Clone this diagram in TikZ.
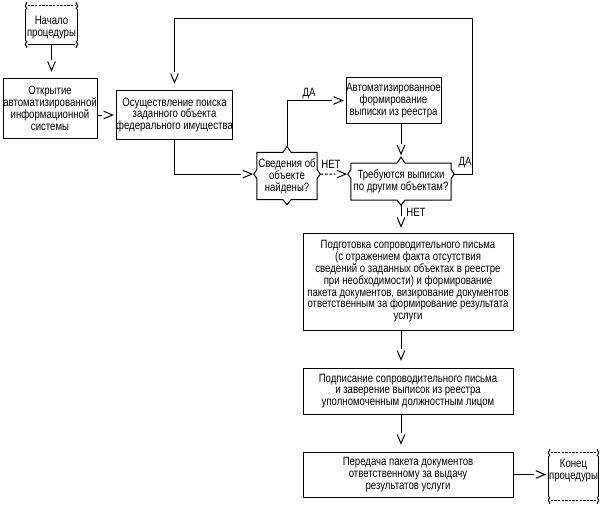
\documentclass[tikz,border=0pt]{standalone}
\usepackage{fontspec}
\setmainfont{Liberation Sans}[FakeStretch=0.8]
\usetikzlibrary{calc}

\pgfdeclarearrow{
  name = Vtip,
  setup code = {
    \pgfarrowssettipend{0pt}
    \pgfarrowssetlineend{-10.5pt}
    \pgfarrowssetbackend{-10.5pt}
    \pgfarrowshullpoint{0pt}{0pt}
    \pgfarrowshullpoint{-9pt}{4pt}
    \pgfarrowshullpoint{-9pt}{-4pt}
  },
  drawing code = {
    \pgfsetdash{}{0pt}
    \pgfsetmiterjoin
    \pgfpathmoveto{\pgfqpoint{-9pt}{3.8pt}}
    \pgfpathlineto{\pgfqpoint{0pt}{0pt}}
    \pgfpathlineto{\pgfqpoint{-9pt}{-3.8pt}}
    \pgfusepathqstroke
  }
}

\newcommand\diagtxt{\fontsize{12}{11.8}\selectfont}

\tikzset{
  frame/.style={line width=1pt, line cap=butt, line join=miter},
  arr/.style={frame, arrows={-Vtip}},
  box/.style={draw, frame, rectangle, align=center, inner xsep=0pt, inner ysep=1pt, font=\diagtxt},
  dec/.style={rectangle, align=center, inner sep=0pt, font=\diagtxt},
  term/.style={rectangle, inner sep=0pt},
  lbl/.style={inner sep=0pt, font=\diagtxt},
  tdash/.style={dash pattern=on 2.4pt off 1.2pt},
  ldash/.style={dash pattern=on 3pt off 1.6pt},
}

\newcommand\decframe[2]{%
  \coordinate (#1-n) at ($(#1.north)+(0,-6)$);
  \coordinate (#1-s) at ($(#1.south)+(0,5)$);
  \coordinate (#1-w) at ($(#1.north west)+(-3,#2)$);
  \coordinate (#1-e) at ($(#1.north east)+(3,#2)$);
  \draw[frame] (#1.north west) -- ($(#1.north)+(-4,0)$) -- (#1-n) -- ($(#1.north)+(4,0)$) -- (#1.north east)
    -- ($(#1.north east)+(0,#2-4.5)$) -- (#1-e) -- ($(#1.north east)+(0,#2+4.5)$) -- (#1.south east)
    -- ($(#1.south)+(4,0)$) -- (#1-s) -- ($(#1.south)+(-4,0)$) -- (#1.south west)
    -- ($(#1.north west)+(0,#2+4.5)$) -- (#1-w) -- ($(#1.north west)+(0,#2-4.5)$) -- cycle;
}

\newcommand\termframe[3]{%
  \draw[frame] ($(#1.north west)+(0,3.5)$) -- ($(#1.south west)+(0,-3.5)$);
  \draw[frame] ($(#1.north east)+(0,3.5)$) -- ($(#1.south east)+(0,-3.5)$);
  \draw[frame,#2] ($(#1.north west)+(2,0)$) -- ($(#1.north east)+(-2,0)$);
  \draw[frame,#3] ($(#1.south west)+(2,0)$) -- ($(#1.south east)+(-2,0)$);
  \draw[frame] ($(#1.north west)+(1.2,-3.5)$) .. controls +(-2.2,2.2) and +(-2.2,-2.2) .. ($(#1.north west)+(1.2,3.5)$);
  \draw[frame] ($(#1.south west)+(1.2,-3.5)$) .. controls +(-2.2,2.2) and +(-2.2,-2.2) .. ($(#1.south west)+(1.2,3.5)$);
  \draw[frame] ($(#1.north east)+(-1.2,-3.5)$) .. controls +(2.2,2.2) and +(2.2,-2.2) .. ($(#1.north east)+(-1.2,3.5)$);
  \draw[frame] ($(#1.south east)+(-1.2,-3.5)$) .. controls +(2.2,2.2) and +(2.2,-2.2) .. ($(#1.south east)+(-1.2,3.5)$);
}

\begin{document}
\begin{tikzpicture}[x=1pt,y=-1pt]
\path[fill=white] (0,0) rectangle (601,508);
\useasboundingbox (0,0) rectangle (601,508);

\node[term, minimum width=51pt, minimum height=38pt,
      label={[lbl,align=center,yshift=-2.5pt]center:{Начало\\процедуры}}] (start) at (51.5,25) {};
\termframe{start}{tdash}{}

\node[box, minimum width=94pt, minimum height=59pt] (open) at (50,108.5)
  {Открытие\\автоматизированной\\информационной\\системы};
\node[box, minimum width=115pt, minimum height=48pt] (search) at (174.5,115)
  {Осуществление поиска\\заданного объекта\\федерального имущества};
\node[box, minimum width=95pt, minimum height=45pt] (auto) at (393.5,100.5)
  {Автоматизированное\\формирование\\выписки из реестра};
\node[dec, minimum width=60pt, minimum height=47pt] (found) at (287,176)
  {Сведения об\\объекте\\найдены?};
\decframe{found}{21.8}
\node[dec, minimum width=100pt, minimum height=36.7pt] (more) at (401,181.6)
  {Требуются выписки\\по другим объектам?};
\decframe{more}{11}
\node[box, minimum width=210pt, minimum height=97pt] (prep) at (408,281.5)
  {Подготовка сопроводительного письма\\(с отражением факта отсутствия\\сведений о заданных объектах в реестре\\при необходимости) и формирование\\пакета документов, визирование документов\\ответственным за формирование результата\\услуги};
\node[box, minimum width=210pt, minimum height=46pt] (sign) at (408,391)
  {Подписание сопроводительного письма\\и заверение выписок из реестра\\уполномоченным должностным лицом};
\node[box, minimum width=210pt, minimum height=45pt] (hand) at (408,474.5)
  {Передача пакета документов\\ответственному за выдачу\\результатов услуги};
\node[term, minimum width=49pt, minimum height=47pt,
      label={[lbl,align=center,yshift=6pt]center:{Конец\\процедуры}}] (fin) at (573.5,476.5) {};
\termframe{fin}{tdash}{tdash}

\coordinate (loopc) at (472,19);

\draw[arr, shorten >=8pt] (start.south) -- (start.south |- open.north);
\draw[arr, shorten >=3pt] (open.east |- search.west) -- (search.west);
\draw[arr, shorten >=2pt] (search.south) |- (found-w);
\draw[arr, shorten >=3pt] (found-n) |- (auto.west);
\node[lbl] (yes1) at (309,94) {ДА};
\draw[arr, ldash, shorten >=2pt] (found-e) -- (more-w);
\node[lbl] (no1) at (331,164) {НЕТ};
\draw[arr, shorten >=3pt] (more-n |- auto.south) -- (more-n);
\draw[arr, shorten >=8pt] (more-e) -| (loopc) -| (search.north);
\node[lbl] (yes2) at (465,163) {ДА};
\draw[arr, shorten >=6pt] (more-s) -- (more-s |- prep.north);
\node[lbl] (no2) at (416,212) {НЕТ};
\draw[arr, shorten >=8pt] (more-s |- prep.south) -- (more-s |- sign.north);
\draw[arr, shorten >=8pt] (more-s |- sign.south) -- (more-s |- hand.north);
\draw[arr, shorten >=4pt] (hand.east) -- (hand.east -| fin.west);
\end{tikzpicture}
\end{document}
